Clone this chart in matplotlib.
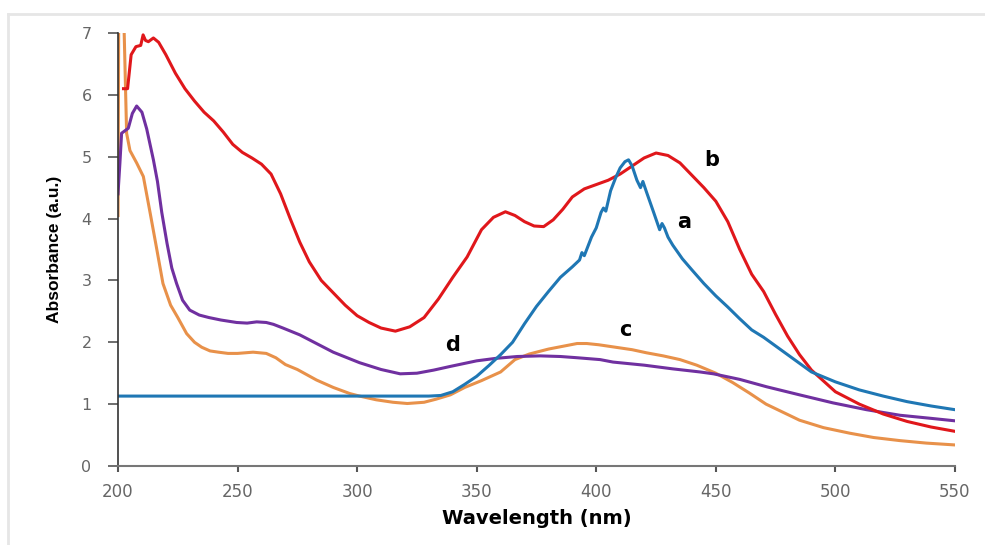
import matplotlib
matplotlib.use('Agg')
import matplotlib.pyplot as plt
from matplotlib.lines import Line2D

# curve a (blue)
wl_a = [200, 330, 335, 340, 345, 350, 355, 360, 365, 370, 375, 380, 385, 390, 393, 394, 395,
        398, 400, 402, 403, 404, 406, 408, 410, 412, 413.5, 415, 417, 418.5, 419.5, 421, 424,
        426.5, 427.5, 428.5, 430, 432, 436, 440, 445, 450, 455, 460, 465, 470, 475, 480, 490,
        500, 510, 520, 530, 540, 550]
abs_a = [1.13, 1.13, 1.14, 1.2, 1.32, 1.45, 1.62, 1.8, 2.0, 2.3, 2.58, 2.82, 3.05, 3.22, 3.33,
         3.45, 3.4, 3.7, 3.85, 4.1, 4.17, 4.12, 4.45, 4.65, 4.82, 4.92, 4.95, 4.85, 4.62, 4.5,
         4.6, 4.43, 4.1, 3.82, 3.92, 3.85, 3.7, 3.57, 3.35, 3.17, 2.95, 2.75, 2.57, 2.38, 2.2,
         2.08, 1.94, 1.8, 1.52, 1.36, 1.23, 1.13, 1.04, 0.97, 0.91]

# curve b (red)
wl_b = [202.3, 204, 205.5, 207.5, 209.5, 210.5, 211.5, 212.7, 214.8, 217, 220, 224, 228, 232,
        236, 240, 244, 248, 252, 256, 260, 264, 268, 272, 276, 280, 285, 290, 295, 300, 305,
        310, 316, 322, 328, 334, 340, 346, 352, 357, 362, 366, 370, 374, 378, 382, 386, 390,
        395, 400, 405, 410, 415, 420, 425, 430, 435, 440, 445, 450, 455, 460, 465, 470, 475,
        480, 485, 490, 500, 510, 520, 530, 540, 550]
abs_b = [6.1, 6.1, 6.65, 6.78, 6.8, 6.97, 6.88, 6.86, 6.92, 6.85, 6.65, 6.35, 6.1, 5.9, 5.72,
         5.58, 5.4, 5.2, 5.07, 4.98, 4.88, 4.72, 4.4, 4.0, 3.62, 3.3, 3.0, 2.8, 2.6, 2.43, 2.32,
         2.23, 2.18, 2.25, 2.4, 2.7, 3.05, 3.38, 3.82, 4.02, 4.11, 4.05, 3.95, 3.88, 3.87, 3.98,
         4.15, 4.35, 4.48, 4.55, 4.62, 4.72, 4.85, 4.98, 5.06, 5.02, 4.9, 4.7, 4.5, 4.28, 3.95,
         3.5, 3.1, 2.82, 2.45, 2.1, 1.8, 1.55, 1.2, 1.0, 0.84, 0.72, 0.63, 0.56]

# curve c (orange)
wl_c = [200, 200.3, 202.4, 203.6, 205, 207.8, 210.6, 213.4, 216, 218.8, 222, 225, 228.7, 232,
        235, 238.5, 242, 246, 250, 256.5, 262, 266, 270, 275, 283, 290, 297, 301, 308, 315,
        321, 328, 333, 339, 345, 352, 360, 366, 372, 380, 388, 392, 396, 401, 408, 415, 421,
        428, 435, 442, 450, 457, 464, 471, 478, 485, 495, 506, 516, 527, 538, 550]
abs_c = [4.05, 7.3, 7.3, 5.38, 5.1, 4.9, 4.68, 4.1, 3.55, 2.95, 2.6, 2.4, 2.14, 2.0, 1.92, 1.86,
         1.84, 1.82, 1.82, 1.84, 1.82, 1.75, 1.64, 1.56, 1.39, 1.27, 1.17, 1.13, 1.07, 1.03,
         1.01, 1.03, 1.08, 1.15, 1.27, 1.38, 1.52, 1.72, 1.81, 1.89, 1.95, 1.98, 1.98, 1.96,
         1.92, 1.88, 1.83, 1.78, 1.72, 1.63, 1.5, 1.35, 1.18, 1.0, 0.87, 0.74, 0.62, 0.53,
         0.46, 0.41, 0.37, 0.34]

# curve d (purple)
wl_d = [200, 200.8, 201.5, 204.3, 206, 207.8, 210, 212, 214.8, 216.5, 218.3, 220.5, 222.5,
        224.5, 227, 230, 234, 238, 243, 249.6, 254, 258, 262, 265, 269, 276, 283, 290, 301,
        310, 318, 325, 332, 339, 350, 358, 367, 376.5, 385, 392, 401.6, 407, 420, 432, 443.4,
        449, 460, 471.3, 485, 499, 513, 527, 540, 550]
abs_d = [4.4, 4.9, 5.38, 5.46, 5.7, 5.82, 5.72, 5.45, 4.95, 4.6, 4.1, 3.6, 3.2, 2.95, 2.68,
         2.52, 2.44, 2.4, 2.36, 2.32, 2.31, 2.33, 2.32, 2.29, 2.23, 2.12, 1.98, 1.84, 1.67,
         1.56, 1.49, 1.5, 1.55, 1.61, 1.7, 1.74, 1.77, 1.78, 1.77, 1.75, 1.72, 1.68, 1.63,
         1.57, 1.52, 1.49, 1.4, 1.28, 1.15, 1.02, 0.91, 0.82, 0.77, 0.73]

curve_labels = ['a', 'b', 'c', 'd']
label_x = [436.7, 448.5, 412, 339.7]
label_y = [3.94, 4.95, 2.2, 1.96]

fig = plt.figure(figsize=(9.85, 5.45), dpi=100)
ax = fig.add_axes([0.1198, 0.145, 0.8497, 0.7944])

lw = 2.2
ax.plot(wl_c, abs_c, color='#E8914A', lw=lw, solid_joinstyle='round')
ax.plot(wl_d, abs_d, color='#7030A0', lw=lw, solid_joinstyle='round')
ax.plot(wl_b, abs_b, color='#E0171B', lw=lw, solid_joinstyle='round')
ax.plot(wl_a, abs_a, color='#1F77B4', lw=lw, solid_joinstyle='round')

for t, x, y in zip(curve_labels, label_x, label_y):
    ax.text(x, y, t, fontsize=15, fontweight='bold', ha='center', va='center')

ax.set_xlim(200, 550)
ax.set_ylim(0, 7)
ax.set_xticks(range(200, 551, 50))
ax.set_yticks(range(0, 8))

for s in ['top', 'right']:
    ax.spines[s].set_visible(False)
ax.spines['left'].set_color('#333333')
ax.spines['bottom'].set_color('#777777')
ax.spines['left'].set_linewidth(1.2)
ax.spines['bottom'].set_linewidth(1.5)

ax.tick_params(axis='y', direction='out', length=7, width=1.2, color='#555555',
               labelcolor='#666666', labelsize=11.5, pad=12)
ax.tick_params(axis='x', direction='out', length=4, width=1.5, color='#555555',
               labelcolor='#666666', labelsize=12, pad=8)

ax.set_xlabel('Wavelength (nm)', fontsize=14, fontweight='bold', labelpad=6)
ax.set_ylabel('Absorbance (a.u.)', fontsize=12.5, fontweight='bold',
              family=['Liberation Sans', 'DejaVu Sans'], labelpad=14)

# light frame around the figure
fig.add_artist(Line2D([8 / 985, 1], [1 - 14 / 545, 1 - 14 / 545], color='#e6e6e6', lw=2))
fig.add_artist(Line2D([8 / 985, 8 / 985], [0, 1 - 14 / 545], color='#e6e6e6', lw=2))

fig.savefig('out.png', dpi=100)
